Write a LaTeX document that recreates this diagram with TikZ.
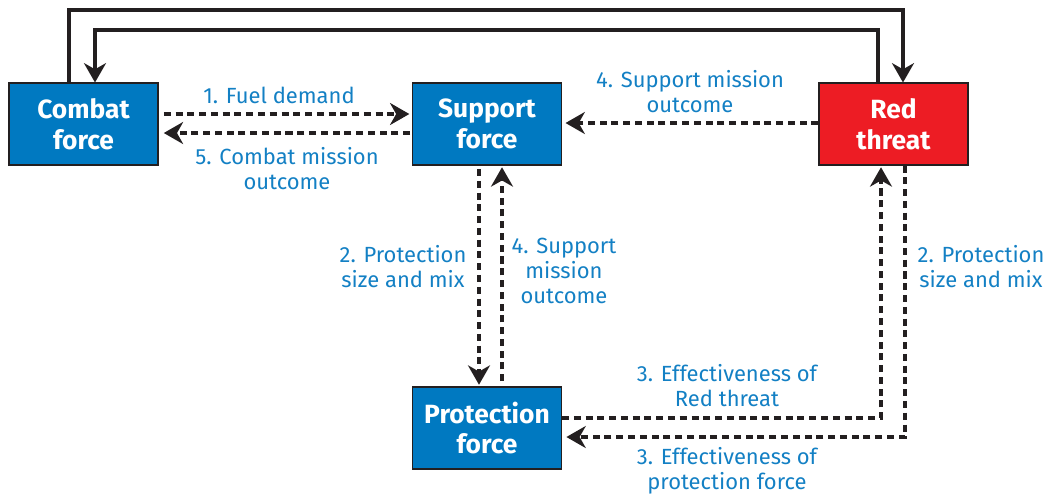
\documentclass[tikz,border=0pt]{standalone}
\usepackage{fontspec}
\setmainfont{Fira Sans}
\usepackage{tikz}
\usetikzlibrary{arrows.meta,positioning,calc}
\definecolor{boxblue}{HTML}{0079C1}
\definecolor{boxred}{HTML}{ED1C24}
\definecolor{labblue}{HTML}{1380C4}
\definecolor{edgegrey}{HTML}{231F20}

\begin{document}
\begin{tikzpicture}[x=0.02cm,y=-0.02cm,
  unit/.style={draw=edgegrey,line width=0.6pt,fill=boxblue,text=white,
    font=\fontsize{15}{17.5}\selectfont\bfseries,align=center,
    minimum width=2.98cm,minimum height=1.64cm,inner sep=0pt},
  lab/.style={text=labblue,font=\fontsize{12.5}{14.2}\selectfont,align=center,inner sep=0pt},
  tip/.style={-{Stealth[length=11pt,width=12.5pt,inset=3.5pt]}},
  link/.style={tip,line width=2.2pt,color=edgegrey},
  flow/.style={tip,line width=2.2pt,color=edgegrey,dash pattern=on 4pt off 2.7pt}]
  \useasboundingbox (0,0) rectangle (1048,495);
  % boxes
  \node[unit] (combat) at (83.5,124) {Combat\\force};
  \node[unit] (support) at (487,124) {Support\\force};
  \node[unit,fill=boxred] (red) at (893.5,124) {Red\\threat};
  \node[unit] (protection) at (487,428) {Protection\\force};
  % loops over the top
  \draw[link] (combat.north -| 69,0) |- (903,10) -- (red.north -| 903,0);
  \draw[link] (red.north -| 878,0) |- (95,30) -- (combat.north -| 95,0);
  % combat <-> support
  \draw[flow,shorten <=3pt,shorten >=1.5pt] (combat.east |- 0,114) -- (support.west |- 0,114);
  \draw[flow,shorten <=1pt,shorten >=3pt] (support.west |- 0,133) -- (combat.east |- 0,133);
  \node[lab] (fuel) at (279,95) {1. Fuel demand};
  \node[lab] (cmo) at (287,169) {5. Combat mission\\outcome};
  % red -> support
  \draw[flow,shorten >=2pt] (red.west |- 0,123) -- (support.east |- 0,123);
  \node[lab] (smo) at (690,92) {4. Support mission\\outcome};
  % support <-> protection
  \draw[flow,shorten <=2pt,shorten >=1pt] (support.south -| 479,0) -- (protection.north -| 479,0);
  \draw[flow,shorten <=3pt,shorten >=1pt] (protection.north -| 502,0) -- (support.south -| 502,0);
  \node[lab] (psm) at (403,267) {2. Protection\\size and mix};
  \node[lab] (smo2) at (564,271) {4. Support\\mission\\outcome};
  % red <-> protection
  \draw[flow,shorten >=1pt] (protection.east |- 0,418) -| (red.south -| 881,0);
  \draw[flow,shorten >=2.5pt] (red.south -| 905,0) |- (protection.east |- 0,437);
  \node[lab] (psm2) at (981,267) {2. Protection\\size and mix};
  \node[lab] (erf) at (727,386) {3. Effectiveness of\\Red threat};
  \node[lab] (epf) at (727,471) {3. Effectiveness of\\protection force};
\end{tikzpicture}
\end{document}
